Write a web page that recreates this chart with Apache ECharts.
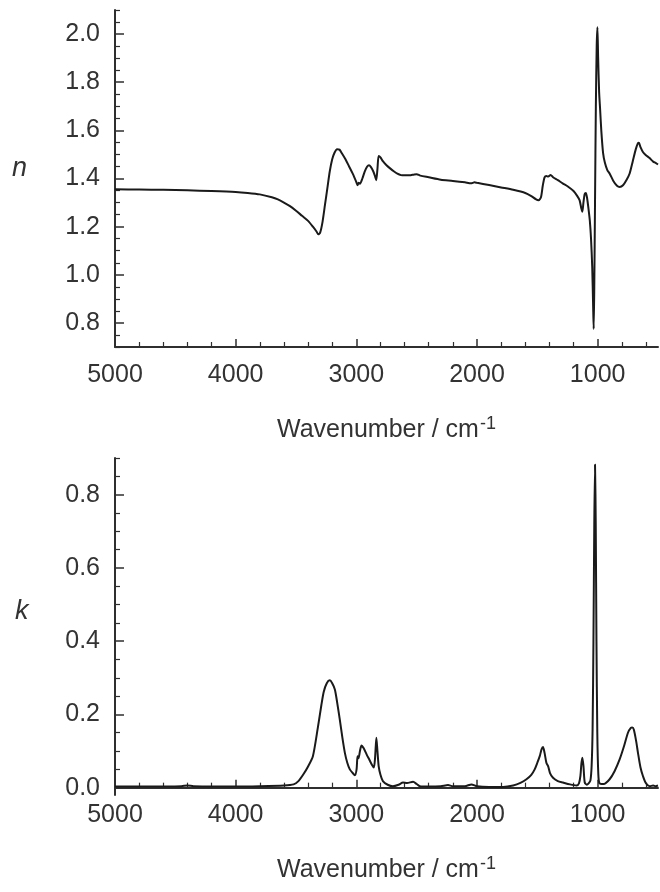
<!DOCTYPE html>
<html>
<head>
<meta charset="utf-8">
<script src="https://cdn.jsdelivr.net/npm/echarts@6/dist/echarts.min.js"></script>
<style>
html,body{margin:0;padding:0;background:#fff;}
#chart{width:660px;height:892px;}
</style>
</head>
<body>
<div id="chart"></div>
<script>
// ---- data ----
var nWavenumber = [5000,4800,4600,4400,4200,4000,3900,3800,3700,3650,3600,3550,3500,3450,3400,3360,3330,3315,3300,3280,3260,3240,3220,3200,3180,3160,3140,3120,3090,3060,3030,3000,2990,2980,2970,2950,2930,2910,2895,2880,2860,2845,2835,2825,2815,2800,2780,2750,2720,2690,2660,2630,2600,2560,2520,2500,2470,2400,2300,2200,2100,2050,2020,2000,1900,1800,1700,1600,1550,1510,1490,1470,1455,1440,1425,1410,1390,1370,1330,1290,1250,1200,1170,1150,1135,1127,1118,1108,1098,1088,1075,1065,1055,1045,1038,1033,1028,1022,1015,1008,1002,996,988,980,970,955,940,920,900,870,840,818,790,760,735,710,685,668,658,645,625,600,570,540,520,500];
var nValue = [1.355,1.354,1.353,1.351,1.348,1.344,1.340,1.334,1.322,1.313,1.300,1.285,1.266,1.245,1.224,1.200,1.180,1.168,1.175,1.220,1.290,1.360,1.430,1.480,1.508,1.522,1.520,1.505,1.480,1.450,1.420,1.385,1.372,1.382,1.378,1.400,1.430,1.450,1.455,1.448,1.430,1.410,1.393,1.440,1.493,1.488,1.472,1.455,1.442,1.430,1.420,1.414,1.413,1.413,1.417,1.418,1.412,1.405,1.395,1.390,1.384,1.380,1.384,1.382,1.373,1.363,1.353,1.340,1.327,1.313,1.310,1.322,1.370,1.405,1.410,1.408,1.415,1.405,1.393,1.380,1.368,1.348,1.328,1.310,1.275,1.262,1.300,1.335,1.340,1.320,1.270,1.225,1.150,1.030,0.880,0.775,0.950,1.300,1.700,1.950,2.028,1.900,1.760,1.690,1.600,1.505,1.465,1.435,1.420,1.390,1.370,1.365,1.372,1.395,1.421,1.470,1.520,1.545,1.548,1.530,1.510,1.497,1.485,1.470,1.465,1.458];

var kWavenumber = [5000,4700,4450,4400,4350,4000,3800,3600,3520,3480,3440,3400,3360,3320,3290,3270,3245,3220,3200,3178,3160,3137,3115,3095,3075,3054,3030,3012,2998,2990,2982,2970,2957,2940,2915,2890,2870,2855,2845,2834,2825,2815,2800,2780,2740,2697,2650,2613,2580,2530,2500,2474,2400,2300,2240,2200,2100,2046,2000,1900,1784,1700,1640,1590,1550,1522,1500,1480,1465,1453,1440,1425,1410,1395,1370,1330,1287,1230,1176,1155,1143,1135,1127,1118,1107,1090,1075,1060,1050,1042,1035,1028,1022,1016,1010,1003,995,985,950,901,860,818,780,749,725,713,700,680,666,645,625,600,569,540,520,500];
var kValue = [0.003,0.003,0.004,0.006,0.004,0.003,0.004,0.006,0.009,0.018,0.036,0.058,0.086,0.162,0.225,0.262,0.285,0.293,0.285,0.268,0.235,0.186,0.135,0.095,0.068,0.050,0.040,0.034,0.050,0.086,0.080,0.100,0.115,0.108,0.091,0.075,0.062,0.055,0.080,0.136,0.100,0.059,0.035,0.018,0.008,0.004,0.008,0.014,0.013,0.016,0.010,0.004,0.003,0.004,0.007,0.004,0.004,0.009,0.004,0.002,0.002,0.006,0.013,0.023,0.035,0.050,0.068,0.086,0.105,0.111,0.095,0.068,0.058,0.040,0.027,0.018,0.014,0.009,0.006,0.012,0.032,0.065,0.082,0.060,0.014,0.008,0.012,0.020,0.060,0.160,0.400,0.720,0.882,0.720,0.400,0.150,0.040,0.012,0.010,0.023,0.045,0.077,0.115,0.150,0.163,0.164,0.158,0.125,0.095,0.055,0.032,0.012,0.004,0.006,0.004,0.006];

var xMajorTicks = [5000,4000,3000,2000,1000];
var xMinorTicks = [4800,4600,4400,4200,3800,3600,3400,3200,2800,2600,2400,2200,1800,1600,1400,1200,800,600];
var nMajorTicks = [0.8,1.0,1.2,1.4,1.6,1.8,2.0];
var nMinorTicks = [0.7,0.75,0.85,0.9,0.95,1.05,1.1,1.15,1.25,1.3,1.35,1.45,1.5,1.55,1.65,1.7,1.75,1.85,1.9,1.95,2.05,2.1];
var kMajorTicks = [0.0,0.2,0.4,0.6,0.8];
var kMinorTicks = [0.05,0.1,0.15,0.25,0.3,0.35,0.45,0.5,0.55,0.65,0.7,0.75,0.85,0.9];

// ---- build ----
function pairs(xs, ys){ var o=[]; for(var i=0;i<xs.length;i++) o.push([xs[i], ys[i]]); return o; }

var FONT = '"Liberation Sans", Arial, sans-serif';
var AX = '#2f2f2f';
var TXT = '#333333';
var titleName = '{a|Wavenumber / cm}{s|-1}';
var titleRich = {
  a: {fontSize: 25, fontFamily: FONT, color: TXT, lineHeight: 30},
  s: {fontSize: 18, fontFamily: FONT, color: TXT, verticalAlign: 'top', lineHeight: 16, padding:[0,0,0,1]}
};

function xMain(grid, labelMargin, nameGap){
  return {
    type: 'value', gridIndex: grid, min: 500, max: 5000, inverse: true, position: 'bottom',
    axisLine: {show: true, lineStyle: {color: AX, width: 2}},
    axisTick: {show: true, inside: true, length: 8, customValues: xMajorTicks, lineStyle: {color: AX, width: 1.5}},
    axisLabel: {show: true, customValues: xMajorTicks, margin: labelMargin, fontSize: 25, fontFamily: FONT, color: TXT,
      formatter: function(v){ return String(Math.round(v)); }},
    splitLine: {show: false},
    name: titleName, nameLocation: 'middle', nameGap: nameGap,
    nameTextStyle: {rich: titleRich}
  };
}
function xMinor(grid){
  return {
    type: 'value', gridIndex: grid, min: 500, max: 5000, inverse: true, position: 'bottom',
    axisLine: {show: false},
    axisTick: {show: true, inside: true, length: 5, customValues: xMinorTicks, lineStyle: {color: AX, width: 1.2}},
    axisLabel: {show: false}, splitLine: {show: false}
  };
}
function yMain(grid, min, max, majors){
  return {
    type: 'value', gridIndex: grid, min: min, max: max, position: 'left',
    axisLine: {show: true, lineStyle: {color: AX, width: 2}},
    axisTick: {show: true, inside: true, length: 9, customValues: majors, lineStyle: {color: AX, width: 1.5}},
    axisLabel: {show: true, customValues: majors, margin: 15, fontSize: 25, fontFamily: FONT, color: TXT,
      formatter: function(v){ return v.toFixed(1); }},
    splitLine: {show: false}
  };
}
function yMinor(grid, min, max, minors){
  return {
    type: 'value', gridIndex: grid, min: min, max: max, position: 'left', offset: 0,
    axisLine: {show: false},
    axisTick: {show: true, inside: true, length: 5, customValues: minors, lineStyle: {color: AX, width: 1.2}},
    axisLabel: {show: false}, splitLine: {show: false}
  };
}

var chart = echarts.init(document.getElementById('chart'), null, {renderer: 'canvas'});
chart.setOption({
  animation: false,
  backgroundColor: '#ffffff',
  grid: [
    {left: 115, top: 10, width: 543, height: 337},
    {left: 115, top: 458, width: 543, height: 337}
  ],
  xAxis: [xMain(0, 16, 68), xMinor(0), xMain(1, 8, 60), xMinor(1)],
  yAxis: [yMain(0, 0.7, 2.1, nMajorTicks), yMinor(0, 0.7, 2.1, nMinorTicks),
          yMain(1, -0.02, 0.9, kMajorTicks), yMinor(1, -0.02, 0.9, kMinorTicks)],
  graphic: [
    {type: 'text', left: 12, top: 155, style: {text: 'n', font: 'italic 27px ' + FONT, fill: TXT}},
    {type: 'text', left: 15, top: 598, style: {text: 'k', font: 'italic 27px ' + FONT, fill: TXT}}
  ],
  series: [
    {type: 'line', xAxisIndex: 0, yAxisIndex: 0, data: pairs(nWavenumber, nValue), showSymbol: false, smooth: 0.25,
      lineStyle: {color: '#1a1a1a', width: 2}, clip: true},
    {type: 'line', xAxisIndex: 2, yAxisIndex: 2, data: pairs(kWavenumber, kValue), showSymbol: false, smooth: 0.25,
      lineStyle: {color: '#1a1a1a', width: 2}, clip: true}
  ]
});
</script>
</body>
</html>
